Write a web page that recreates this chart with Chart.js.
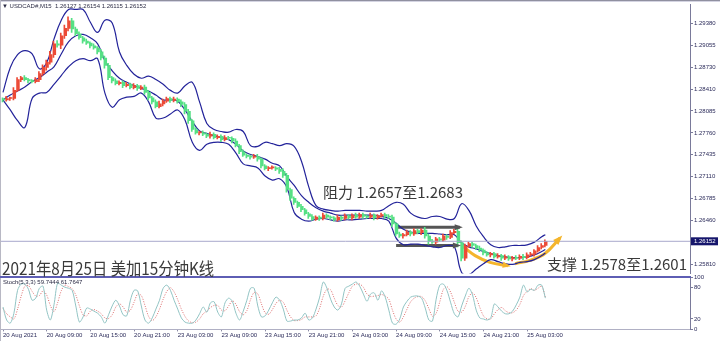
<!DOCTYPE html>
<html>
<head>
<meta charset="utf-8">
<script src="https://cdn.jsdelivr.net/npm/chart.js@4.4.1/dist/chart.umd.min.js"></script>
<style>
    body { margin: 0; background: #fff; }
    #wrap { position: relative; width: 720px; height: 341px; overflow: hidden; background: #fff; }
    canvas { position: absolute; left: 0; }
    .t { position: absolute; white-space: nowrap; z-index: 5; }
    .small { font: 6px "Liberation Sans", Arial, sans-serif; color: #2b2b44; }
    .big { font-family: "Noto Sans CJK SC", sans-serif; color: #3a3a3a; }
    .line { position: absolute; z-index: 4; }
</style>
</head>
<body>
<div id="wrap">
    <canvas id="main" width="720" height="278" style="top:0px"></canvas>
    <canvas id="stoch" width="720" height="71" style="top:270px"></canvas>

    <div class="line" style="left:0;top:0;width:720px;height:1px;background:#9090a0"></div>
    <div class="line" style="left:0;top:1px;width:720px;height:1px;background:#d4d4e2"></div>
    <div class="line" style="left:0;top:0;width:1px;height:341px;background:#b8b8c4"></div>
    <div class="line" style="left:0;top:276px;width:691px;height:2px;background:#5e5eb4"></div>

    <div class="t small" style="left:2px;top:3px">▼ USDCAD#,M15&nbsp; 1.26127 1.26154 1.26115 1.26152</div>
    <div class="t small" style="left:3px;top:279px">Stoch(5,3,3) 59.7444 61.7647</div>
    <div class="t big" style="left:323px;top:183px;font-size:15px;line-height:17px">阻力 1.2657至1.2683</div>
    <div class="t big" style="left:2px;top:258px;font-size:17px;line-height:19px;transform:scaleX(0.9);transform-origin:0 0">2021年8月25日 美加15分钟K线</div>
    <div class="t big" style="left:547px;top:255px;font-size:15px;line-height:17px">支撑 1.2578至1.2601</div>
</div>

<script>
// USDCAD M15, sampled every 30 minutes from 20 Aug 03:00 to 25 Aug 05:30
const firstOpen = 1.2826;
const closes = [
    1.2825, 1.2827, 1.2827, 1.2839, 1.2855, 1.2858, 1.2855, 1.2853, 1.2852, 1.2855,
    1.2864, 1.2873, 1.2881, 1.2892, 1.2908, 1.2906, 1.2920, 1.2931, 1.2942, 1.2930,
    1.2923, 1.2917, 1.2912, 1.2909, 1.2905, 1.2902, 1.2896, 1.2887, 1.2876, 1.2858,
    1.2853, 1.2849, 1.2851, 1.2846, 1.2848, 1.2843, 1.2846, 1.2842, 1.2844, 1.2836,
    1.2828, 1.2822, 1.2815, 1.2819, 1.2823, 1.2827, 1.2824, 1.2826, 1.2822, 1.2818,
    1.2808, 1.2794, 1.2781, 1.2776, 1.2776, 1.2774, 1.2771, 1.2774, 1.2769, 1.2771,
    1.2766, 1.2769, 1.2768, 1.2764, 1.2757, 1.2748, 1.2743, 1.2741, 1.2740, 1.2741,
    1.2737, 1.2727, 1.2723, 1.2724, 1.2724, 1.2722, 1.2719, 1.2713, 1.2692, 1.2679,
    1.2673, 1.2667, 1.2662, 1.2656, 1.2652, 1.2648, 1.2651, 1.2649, 1.2654, 1.2651,
    1.2650, 1.2647, 1.2651, 1.2649, 1.2653, 1.2650, 1.2654, 1.2651, 1.2655, 1.2652,
    1.2651, 1.2654, 1.2650, 1.2653, 1.2655, 1.2652, 1.2651, 1.2641, 1.2626, 1.2623,
    1.2625, 1.2629, 1.2626, 1.2631, 1.2628, 1.2632, 1.2623, 1.2615, 1.2614, 1.2619,
    1.2617, 1.2623, 1.2621, 1.2628, 1.2630, 1.2613, 1.2590, 1.2608, 1.2612, 1.2609,
    1.2605, 1.2602, 1.2598, 1.2595, 1.2597, 1.2592, 1.2594, 1.2590, 1.2592, 1.2589,
    1.2591, 1.2590, 1.2593, 1.2591, 1.2595, 1.2596, 1.2601, 1.2606, 1.2609, 1.26152
];
// wick lengths in pips above / below the body
const wickUp = [
    2, 3, 2, 4, 3, 2, 3, 2, 2, 3, 3, 4, 3, 5, 4, 5, 4, 5, 6, 4,
    3, 3, 2, 3, 2, 3, 2, 4, 3, 3, 2, 3, 2, 2, 3, 2, 3, 2, 2, 3,
    3, 2, 3, 4, 3, 2, 2, 3, 2, 3, 3, 3, 2, 3, 2, 3, 2, 3, 2, 2,
    2, 3, 2, 2, 3, 2, 3, 2, 2, 3, 3, 2, 2, 2, 3, 2, 3, 4, 3, 2,
    2, 2, 3, 2, 2, 3, 2, 2, 3, 2, 2, 2, 3, 2, 3, 2, 2, 3, 2, 2,
    2, 3, 2, 2, 2, 2, 3, 3, 2, 3, 2, 3, 2, 3, 2, 2, 4, 3, 3, 2,
    2, 3, 2, 3, 3, 4, 3, 3, 2, 2, 2, 3, 2, 2, 2, 2, 3, 2, 3, 2,
    2, 3, 2, 3, 3, 3, 2, 3, 3, 2
];
const wickDown = [
    3, 2, 3, 2, 2, 3, 2, 3, 2, 2, 3, 3, 4, 3, 4, 3, 5, 4, 4, 5,
    3, 2, 3, 2, 3, 2, 3, 3, 4, 3, 3, 2, 2, 3, 2, 2, 2, 3, 2, 3,
    3, 3, 2, 2, 3, 2, 3, 2, 2, 3, 4, 4, 3, 2, 3, 2, 2, 3, 2, 2,
    3, 2, 2, 3, 2, 3, 2, 2, 3, 2, 3, 3, 2, 3, 2, 2, 3, 3, 4, 3,
    3, 2, 3, 2, 3, 2, 2, 3, 2, 2, 3, 2, 2, 3, 2, 2, 3, 2, 2, 3,
    2, 2, 3, 2, 2, 3, 2, 4, 3, 2, 3, 2, 3, 2, 2, 3, 3, 4, 2, 3,
    2, 2, 3, 2, 2, 6, 4, 3, 2, 3, 2, 2, 3, 2, 3, 2, 2, 3, 2, 2,
    3, 2, 2, 3, 2, 2, 3, 2, 2, 2
];

// Bollinger bands, read every hour (bar 0, 2, 4 ... 148, then 149)
const bandUpper = [
    1.2836, 1.2873, 1.2892, 1.2898, 1.2893, 1.2871, 1.2880, 1.2915, 1.2943, 1.2959,
    1.2959, 1.2959, 1.2940, 1.2925, 1.2943, 1.2939, 1.2896, 1.2876, 1.2863, 1.2857,
    1.2860, 1.2855, 1.2848, 1.2839, 1.2835, 1.2846, 1.2851, 1.2822, 1.2790, 1.2781,
    1.2778, 1.2777, 1.2781, 1.2778, 1.2757, 1.2756, 1.2762, 1.2760, 1.2757, 1.2760,
    1.2756, 1.2734, 1.2696, 1.2668, 1.2663, 1.2661, 1.2660, 1.2661, 1.2661, 1.2661,
    1.2660, 1.2660, 1.2661, 1.2668, 1.2673, 1.2670, 1.2657, 1.2651, 1.2649, 1.2652,
    1.2652, 1.2648, 1.2649, 1.2671, 1.2661, 1.2638, 1.2622, 1.2610, 1.2606, 1.2607,
    1.2609, 1.2609, 1.2610, 1.2614, 1.2622, 1.2625
];
const bandMiddle = [
    1.2825, 1.2832, 1.2838, 1.2844, 1.2852, 1.2858, 1.2866, 1.2874, 1.2893, 1.2911,
    1.2920, 1.2922, 1.2917, 1.2908, 1.2883, 1.2868, 1.2857, 1.2851, 1.2846, 1.2842,
    1.2838, 1.2832, 1.2825, 1.2825, 1.2823, 1.2810, 1.2793, 1.2779, 1.2775, 1.2772,
    1.2769, 1.2766, 1.2759, 1.2749, 1.2744, 1.2741, 1.2737, 1.2731, 1.2727, 1.2711,
    1.2698, 1.2683, 1.2673, 1.2665, 1.2660, 1.2657, 1.2654, 1.2654, 1.2654, 1.2654,
    1.2654, 1.2654, 1.2652, 1.2649, 1.2642, 1.2633, 1.2629, 1.2627, 1.2627, 1.2627,
    1.2626, 1.2625, 1.2625, 1.2613, 1.2607, 1.2604, 1.2600, 1.2597, 1.2594, 1.2592,
    1.2591, 1.2591, 1.2592, 1.2595, 1.2600, 1.2603
];
const bandLower = [
    1.2825, 1.2810, 1.2794, 1.2784, 1.2827, 1.2835, 1.2836, 1.2848, 1.2861, 1.2874,
    1.2883, 1.2886, 1.2883, 1.2886, 1.2835, 1.2814, 1.2825, 1.2829, 1.2830, 1.2835,
    1.2822, 1.2798, 1.2798, 1.2804, 1.2810, 1.2795, 1.2762, 1.2750, 1.2759, 1.2762,
    1.2762, 1.2759, 1.2746, 1.2730, 1.2727, 1.2724, 1.2712, 1.2706, 1.2708, 1.2695,
    1.2658, 1.2648, 1.2645, 1.2648, 1.2649, 1.2647, 1.2645, 1.2647, 1.2647, 1.2648,
    1.2649, 1.2649, 1.2649, 1.2645, 1.2620, 1.2610, 1.2611, 1.2611, 1.2609, 1.2607,
    1.2606, 1.2609, 1.2607, 1.2569, 1.2566, 1.2574, 1.2582, 1.2588, 1.2585, 1.2582,
    1.2581, 1.2584, 1.2585, 1.2588, 1.2594, 1.2598
];

// Stoch(5,3,3), one value per bar
const stochMain = [
    43, 18, 12, 31, 75, 87, 87, 77, 56, 60, 79, 83, 37, 18, 47, 89, 85, 81, 79, 75,
    45, 14, 24, 41, 39, 35, 31, 24, 12, 28, 45, 56, 45, 28, 26, 56, 75, 74, 45, 18,
    12, 22, 39, 56, 79, 85, 75, 56, 39, 22, 14, 12, 12, 18, 30, 43, 33, 51, 53, 33,
    24, 51, 60, 54, 31, 18, 35, 56, 79, 79, 45, 24, 26, 37, 51, 62, 56, 39, 16, 16,
    18, 18, 22, 31, 18, 22, 39, 62, 91, 79, 58, 43, 37, 49, 79, 83, 87, 91, 83, 68,
    54, 68, 70, 56, 74, 62, 37, 12, 10, 20, 43, 54, 62, 64, 64, 60, 41, 18, 16, 58,
    85, 87, 74, 51, 30, 24, 45, 64, 79, 66, 37, 22, 20, 18, 22, 49, 43, 35, 30, 30,
    35, 47, 62, 85, 72, 77, 75, 85, 85, 60
];
const stochSignal = [
    40, 30, 24, 20, 39, 64, 83, 84, 73, 64, 65, 74, 66, 46, 34, 51, 74, 85, 82, 78,
    66, 45, 28, 26, 35, 38, 35, 30, 22, 21, 28, 43, 49, 43, 33, 37, 52, 68, 65, 46,
    25, 17, 24, 39, 58, 73, 80, 72, 57, 39, 25, 16, 13, 14, 20, 30, 35, 42, 46, 46,
    37, 36, 45, 55, 48, 34, 28, 36, 57, 71, 68, 49, 32, 29, 38, 50, 56, 52, 37, 24,
    17, 17, 19, 24, 24, 24, 26, 41, 64, 77, 76, 60, 46, 43, 55, 70, 83, 87, 87, 81,
    68, 63, 64, 65, 67, 64, 58, 37, 20, 14, 24, 39, 53, 60, 63, 63, 55, 40, 25, 31,
    53, 77, 82, 71, 52, 35, 33, 44, 63, 70, 61, 42, 26, 20, 20, 30, 38, 42, 36, 32,
    32, 37, 48, 65, 73, 78, 75, 79, 83, 62
];

const priceTicks = [1.29380, 1.29055, 1.28730, 1.28410, 1.28085, 1.27760, 1.27435, 1.27110, 1.26785, 1.26460, 1.25810];
const stochTicks = [0, 20, 80, 100];
const timeTickBars = [0, 12, 24, 36, 48, 60, 72, 84, 96, 108, 120, 132, 144];
const timeLabels = ['20 Aug 2021', '20 Aug 09:00', '20 Aug 15:00', '20 Aug 21:00', '23 Aug 03:00', '23 Aug 09:00',
    '23 Aug 15:00', '23 Aug 21:00', '24 Aug 03:00', '24 Aug 09:00', '24 Aug 15:00', '24 Aug 21:00', '25 Aug 03:00'];

// hand drawn marks on the chart (bar index, price)
const resistArrowX = [108, 125.5];
const resistArrowY = [1.2636, 1.2636];
const supportArrowX = [108, 125];
const supportArrowY = [1.2609, 1.2609];
const dipArrowX = [126.1, 129.7, 133.8, 138.7];
const dipArrowY = [1.2609, 1.2594, 1.2584, 1.2579];
const riseArrowX = [140.7, 144.8, 148.9, 153];
const riseArrowY = [1.2582, 1.2587, 1.2597, 1.2620];

const X_MIN = -0.55, X_MAX = 188.74;
const UP = '#ec4a36', DOWN = '#55e084', BAND = '#23239a';
const lastPrice = closes[closes.length - 1];

const opens = closes.map((c, i) => i == 0 ? firstOpen : closes[i - 1]);
const barColors = closes.map((c, i) => c >= opens[i] ? UP : DOWN);
const bandX = bandUpper.map((v, k) => Math.min(k * 2, closes.length - 1));
const pts = (xs, ys) => xs.map((x, i) => ({ x: x, y: ys[i] }));

const arrowHeads = {
    id: 'arrowHeads',
    afterDatasetsDraw(chart) {
        const ctx = chart.ctx;
        chart.data.datasets.forEach((ds, k) => {
            if (!ds.arrow) return;
            const p = chart.getDatasetMeta(k).data;
            const a = p[p.length - 2], b = p[p.length - 1];
            const ang = Math.atan2(b.y - a.y, b.x - a.x);
            const L = ds.arrow;
            ctx.save();
            ctx.fillStyle = ds.borderColor;
            ctx.beginPath();
            ctx.moveTo(b.x + Math.cos(ang) * L * 0.5, b.y + Math.sin(ang) * L * 0.5);
            ctx.lineTo(b.x + Math.cos(ang + 2.6) * L, b.y + Math.sin(ang + 2.6) * L);
            ctx.lineTo(b.x + Math.cos(ang - 2.6) * L, b.y + Math.sin(ang - 2.6) * L);
            ctx.closePath();
            ctx.fill();
            ctx.restore();
        });
    }
};

const priceTag = {
    id: 'priceTag',
    afterDraw(chart) {
        const y = chart.scales.y.getPixelForValue(lastPrice);
        const x = chart.chartArea.right + 1;
        const ctx = chart.ctx;
        ctx.save();
        ctx.fillStyle = '#16166c';
        ctx.fillRect(x, y - 4, 27, 8);
        ctx.fillStyle = '#ffffff';
        ctx.font = '6px "Liberation Sans", Arial';
        ctx.textBaseline = 'middle';
        ctx.fillText(lastPrice.toFixed(5), x + 3, y + 0.5);
        ctx.restore();
    }
};

const axisFont = { family: '"Liberation Sans", Arial', size: 6 };

new Chart(document.getElementById('main'), {
    type: 'bar',
    data: {
        datasets: [
            {
                type: 'line', data: [{ x: X_MIN, y: lastPrice }, { x: X_MAX, y: lastPrice }],
                borderColor: '#a8a8cc', borderWidth: 1, pointRadius: 0
            },
            {
                data: closes.map((c, i) => ({ x: i, y: [Math.min(c, opens[i]) - wickDown[i] / 10000, Math.max(c, opens[i]) + wickUp[i] / 10000] })),
                backgroundColor: barColors, barThickness: 1
            },
            {
                data: closes.map((c, i) => ({ x: i, y: [opens[i], c] })),
                backgroundColor: barColors, barThickness: 1.8, minBarLength: 1
            },
            { type: 'line', data: pts(bandX, bandUpper), borderColor: BAND, borderWidth: 1.2, pointRadius: 0, tension: 0.4 },
            { type: 'line', data: pts(bandX, bandMiddle), borderColor: BAND, borderWidth: 1.2, pointRadius: 0, tension: 0.4 },
            { type: 'line', data: pts(bandX, bandLower), borderColor: BAND, borderWidth: 1.2, pointRadius: 0, tension: 0.4 },
            { type: 'line', data: pts(resistArrowX, resistArrowY), borderColor: '#555555', borderWidth: 3, pointRadius: 0, arrow: 6 },
            { type: 'line', data: pts(supportArrowX, supportArrowY), borderColor: '#555555', borderWidth: 3, pointRadius: 0, arrow: 6 },
            { type: 'line', data: pts(dipArrowX, dipArrowY), borderColor: '#f4b52c', borderWidth: 3, pointRadius: 0, tension: 0.4, arrow: 6 },
            { type: 'line', data: pts(riseArrowX, riseArrowY), borderColor: '#f4b52c', borderWidth: 3, pointRadius: 0, tension: 0.4, arrow: 7 }
        ]
    },
    options: {
        responsive: false,
        animation: false,
        events: [],
        layout: { padding: { top: 3, bottom: 2, left: 1, right: 0 } },
        plugins: { legend: { display: false }, tooltip: { enabled: false } },
        scales: {
            x: { type: 'linear', min: X_MIN, max: X_MAX, offset: false, display: false, grid: { offset: false } },
            y: {
                position: 'right', min: 1.25676, max: 1.29662, beginAtZero: false,
                afterFit: s => { s.width = 30; },
                afterBuildTicks: s => { s.ticks = priceTicks.map(v => ({ value: v })); },
                ticks: { font: axisFont, color: '#2b2b5a', padding: 1, callback: v => v.toFixed(5) },
                grid: { drawOnChartArea: false, tickLength: 3, color: '#7a7a9a' },
                border: { color: '#7a7a9a' }
            }
        }
    },
    plugins: [arrowHeads, priceTag]
});

new Chart(document.getElementById('stoch'), {
    type: 'line',
    data: {
        datasets: [
            { data: stochMain.map((v, i) => ({ x: i, y: v })), borderColor: '#92c4c4', borderWidth: 1, pointRadius: 0, tension: 0.3 },
            { data: stochSignal.map((v, i) => ({ x: i, y: v })), borderColor: '#dc6a6a', borderWidth: 1, borderDash: [1, 1.5], pointRadius: 0, tension: 0.3 }
        ]
    },
    options: {
        responsive: false,
        animation: false,
        events: [],
        layout: { padding: { top: 7.3, bottom: 0, left: 1, right: 0 } },
        plugins: { legend: { display: false }, tooltip: { enabled: false } },
        scales: {
            x: {
                type: 'linear', min: X_MIN, max: X_MAX,
                afterFit: s => { s.height = 11.6; },
                afterBuildTicks: s => { s.ticks = timeTickBars.map(v => ({ value: v })); },
                ticks: { font: axisFont, color: '#2b2b5a', align: 'start', maxRotation: 0, autoSkip: false, padding: 0,
                    callback: (v, i) => timeLabels[i] },
                grid: { drawOnChartArea: false, tickLength: 2, color: '#8a8aa4' },
                border: { color: '#b0b0c4' }
            },
            y: {
                position: 'right', min: 0, max: 100,
                afterFit: s => { s.width = 30; },
                afterBuildTicks: s => { s.ticks = stochTicks.map(v => ({ value: v })); },
                ticks: { font: axisFont, color: '#2b2b5a', padding: 1 },
                grid: { drawOnChartArea: false, tickLength: 3, color: '#7a7a9a' },
                border: { color: '#7a7a9a' }
            }
        }
    }
});
</script>
</body>
</html>
